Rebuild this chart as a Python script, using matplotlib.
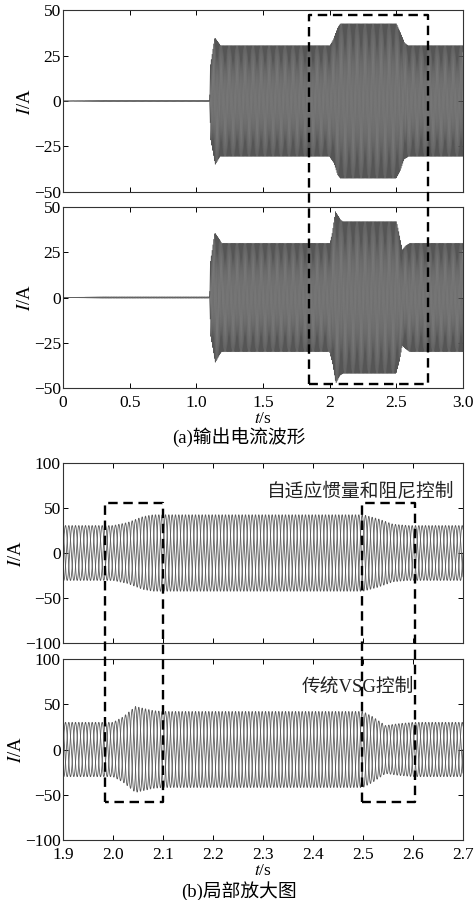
import numpy as np
import matplotlib
matplotlib.use("Agg")
import matplotlib.pyplot as plt
from matplotlib.lines import Line2D

plt.rcParams['font.family'] = ['Liberation Serif', 'Noto Sans CJK SC']
plt.rcParams['mathtext.fontset'] = 'stix'
plt.rcParams['axes.linewidth'] = 0.8

# envelope breakpoints (time s, amplitude A)
t_adapt = [0.0, 0.30, 1.10, 1.105, 1.14, 1.18, 2.00, 2.03, 2.06, 2.08, 2.50, 2.53, 2.56, 2.59, 3.0]
a_adapt = [0.0, 0.4, 0.4, 20.0, 35.0, 30.5, 30.5, 34.0, 40.5, 42.5, 42.5, 38.0, 32.0, 30.5, 30.5]

t_vsg = [0.0, 0.30, 1.10, 1.105, 1.14, 1.19, 2.00, 2.02, 2.045, 2.08, 2.10, 2.50, 2.52, 2.545, 2.57, 2.60, 3.0]
a_vsg = [0.0, 0.4, 0.4, 20.0, 36.0, 30.0, 30.0, 36.0, 47.5, 43.0, 42.0, 42.0, 36.0, 26.5, 28.5, 30.0, 30.0]

freq = 50.0            # grid frequency, Hz
fs = 10000             # sample rate
phases = [0.0, -2 * np.pi / 3, 2 * np.pi / 3]

top_yticks = [-50, -25, 0, 25, 50]
top_xticks = [0, 0.5, 1.0, 1.5, 2, 2.5, 3.0]
top_xlabels = ['0', '0.5', '1.0', '1.5', '2', '2.5', '3.0']
zoom_yticks = [-100, -50, 0, 50, 100]
zoom_xticks = [1.9, 2.0, 2.1, 2.2, 2.3, 2.4, 2.5, 2.6, 2.7]

# dashed boxes: (x0, x1, y_top, y_bottom)
box_top = (1.848, 2.735, 47.3, -47.8)
boxes_zoom = [(1.984, 2.100, 55.5, -57.5), (2.498, 2.605, 55.5, -57.5)]

t = np.arange(0, 3.0, 1.0 / fs)


def currents(tb, ab):
    env = np.interp(t, tb, ab)
    return [env * np.sin(2 * np.pi * freq * t + p) for p in phases]


i_adapt = currents(t_adapt, a_adapt)
i_vsg = currents(t_vsg, a_vsg)

fig = plt.figure(figsize=(4.77, 9.0), dpi=100)
W, H = 477.0, 900.0


def add_ax(x0, y0, x1, y1):
    return fig.add_axes([x0 / W, 1 - y1 / H, (x1 - x0) / W, (y1 - y0) / H])


ax1 = add_ax(63, 10, 463, 192)
ax2 = add_ax(63, 207, 463, 388)
ax3 = add_ax(63, 463, 463, 643)
ax4 = add_ax(63, 659, 463, 840)


def style(ax):
    ax.tick_params(direction='in', top=True, right=True, labelsize=12.5, length=3.5, width=0.7)
    ax.tick_params(axis='y', pad=1.5)
    ax.tick_params(axis='x', pad=5)
    ax.set_ylabel('$I$/A', fontsize=13.5, labelpad=0)
    for s in ax.spines.values():
        s.set_color('#333333')


for ax, cur in [(ax1, i_adapt), (ax2, i_vsg)]:
    for c in cur:
        ax.plot(t, c, color='#555555', lw=0.4)
    ax.set_xlim(0, 3.0)
    ax.set_ylim(-50, 50)
    ax.set_yticks(top_yticks)
    ax.set_yticklabels(['\u221250', '\u221225', '0', '25', '50'])
    ax.set_xticks(top_xticks)
    style(ax)
ax1.set_xticklabels([])
ax2.set_xticklabels(top_xlabels)
ax2.set_xlabel('$t$/s', fontsize=12.5, labelpad=0)

for ax, cur in [(ax3, i_adapt), (ax4, i_vsg)]:
    m = (t >= 1.9) & (t <= 2.7)
    for c in cur:
        ax.plot(t[m], c[m], color='#5a5a5a', lw=0.6)
    ax.set_xlim(1.9, 2.7)
    ax.set_ylim(-100, 100)
    ax.set_yticks(zoom_yticks)
    ax.set_yticklabels(['\u2212100', '\u221250', '0', '50', '100'])
    ax.set_xticks(zoom_xticks)
    style(ax)
ax3.set_xticklabels([])
ax4.set_xticklabels([f'{v:.1f}' for v in zoom_xticks])
ax4.set_xlabel('$t$/s', fontsize=12.5, labelpad=0)

ax3.text(2.683, 68, '自适应惯量和阻尼控制', ha='right', va='center', fontsize=13.5,
         family=['Liberation Serif', 'Noto Sans CJK SC'], color='#222222')
ax4.text(2.603, 69, '传统VSG控制', ha='right', va='center', fontsize=13.5,
         family=['Liberation Serif', 'Noto Sans CJK SC'], color='#222222')


def to_fig(ax, x, y):
    p = ax.transData.transform((x, y))
    return fig.transFigure.inverted().transform(p)


def draw_box(ax_top, ax_bot, box):
    x0, x1, yt, yb = box
    pts = [to_fig(ax_bot, x0, yb), to_fig(ax_top, x0, yt),
           to_fig(ax_top, x1, yt), to_fig(ax_bot, x1, yb), to_fig(ax_bot, x0, yb)]
    xs = [p[0] for p in pts]
    ys = [p[1] for p in pts]
    fig.add_artist(Line2D(xs, ys, transform=fig.transFigure, color='black',
                          lw=1.7, dashes=(4, 2.4), zorder=10))


draw_box(ax1, ax2, box_top)
for b in boxes_zoom:
    draw_box(ax3, ax4, b)

fig.text(0.5, 1 - 437 / H, '(a)输出电流波形', ha='center', va='center', fontsize=13.5,
         family=['Liberation Serif', 'Noto Sans CJK SC'])
fig.text(0.5, 1 - 891 / H, '(b)局部放大图', ha='center', va='center', fontsize=13.5,
         family=['Liberation Serif', 'Noto Sans CJK SC'])

fig.savefig('out.png', dpi=100)
